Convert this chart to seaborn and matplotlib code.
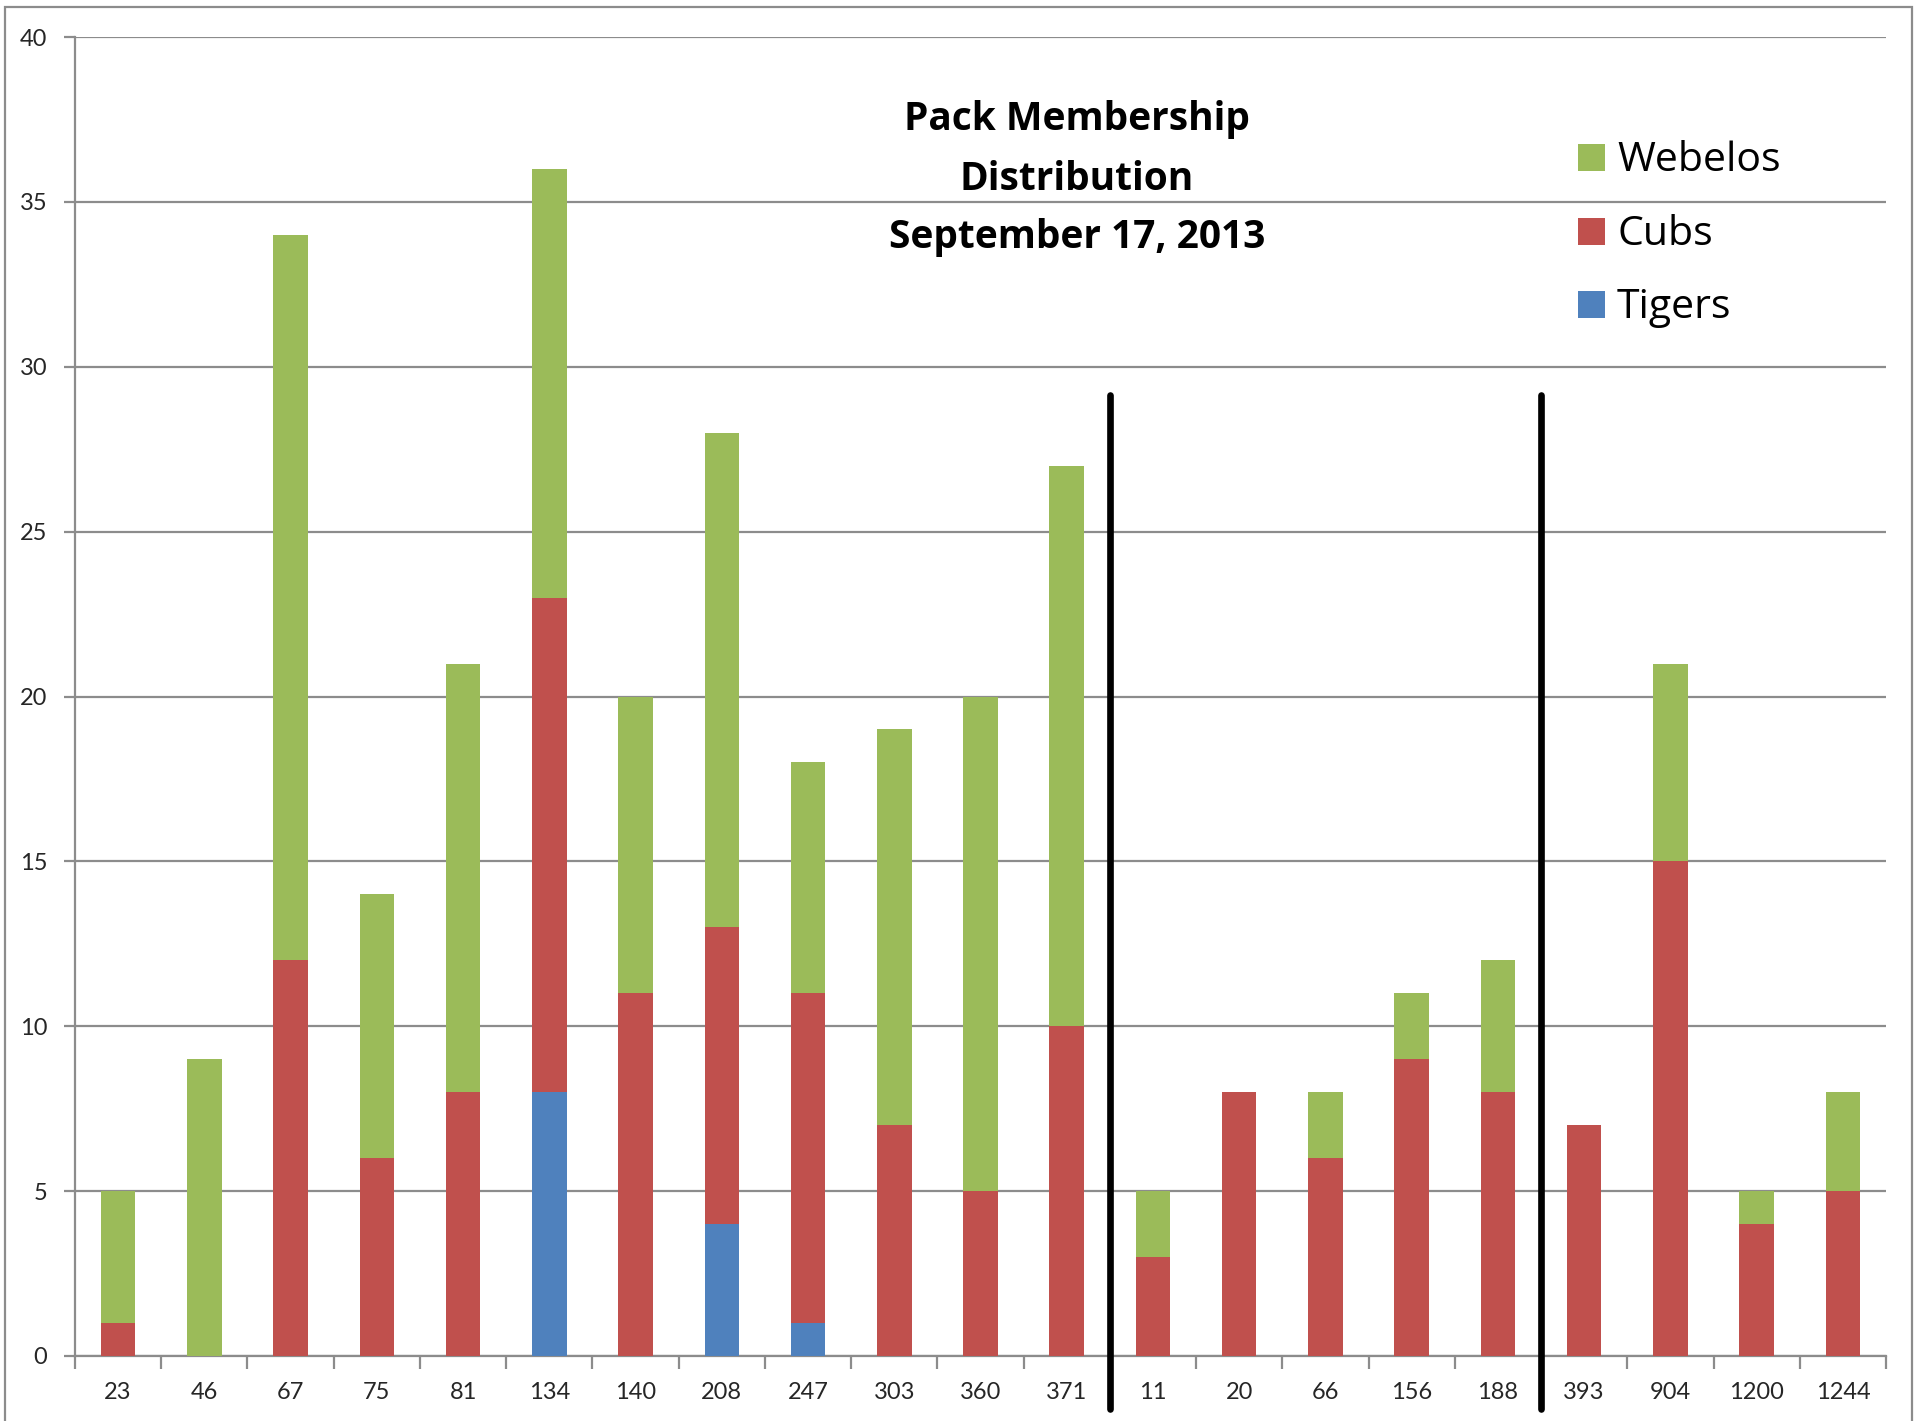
import matplotlib
matplotlib.use("Agg")
import matplotlib.pyplot as plt
import seaborn as sns
import pandas as pd
import numpy as np
from matplotlib.patches import Rectangle
from matplotlib.lines import Line2D

packs = ["23", "46", "67", "75", "81", "134", "140", "208", "247", "303", "360", "371",
         "11", "20", "66", "156", "188", "393", "904", "1200", "1244"]
tigers = [0, 0, 0, 0, 0, 8, 0, 4, 1, 0, 0, 0, 0, 0, 0, 0, 0, 0, 0, 0, 0]
cubs = [1, 0, 12, 6, 8, 15, 11, 9, 10, 7, 5, 10, 3, 8, 6, 9, 8, 7, 15, 4, 5]
webelos = [4, 9, 22, 8, 13, 13, 9, 15, 7, 12, 15, 17, 2, 0, 2, 2, 4, 0, 6, 1, 3]
group_breaks = [11.5, 16.5]
title_lines = ["Pack Membership", "Distribution", "September 17, 2013"]
series_names = ["Webelos", "Cubs", "Tigers"]

sns.set_theme(style="white")
plt.rcParams["font.family"] = ["Lato", "DejaVu Sans"]

c_web = "#9BBB59"
c_cub = "#C0504D"
c_tig = "#4F81BD"
gray = "#8C8C8C"
W, H = 1923, 1421

df = pd.DataFrame({"pack": packs, "tigers": tigers, "cubs": cubs, "webelos": webelos})
df["lvl_cub"] = df["tigers"] + df["cubs"]
df["lvl_web"] = df["lvl_cub"] + df["webelos"]

fig = plt.figure(figsize=(W / 100, H / 100), dpi=100)
ax = fig.add_axes([75 / W, 1 - 1356 / H, (1886 - 75) / W, (1356 - 37) / H])

for col, c in [("lvl_web", c_web), ("lvl_cub", c_cub), ("tigers", c_tig)]:
    sns.barplot(data=df, x="pack", y=col, order=packs, color=c, width=0.4,
                saturation=1, linewidth=0, ax=ax, zorder=3)

ax.set_xlim(-0.5, len(packs) - 0.5)
ax.set_ylim(0, 40)
ax.set_yticks(np.arange(0, 41, 5))
ax.yaxis.grid(True, color=gray, linewidth=1.6, zorder=0)
ax.set_axisbelow(True)
ax.set_xlabel("")
ax.set_ylabel("")

for s in ["top", "right"]:
    ax.spines[s].set_visible(False)
for s in ["left", "bottom"]:
    ax.spines[s].set_color(gray)
    ax.spines[s].set_linewidth(1.6)

ax.tick_params(axis="y", which="major", length=8, width=1.6, color=gray,
               labelsize=17, pad=12, left=True)
ax.set_xticks(np.arange(len(packs)))
ax.set_xticklabels(packs)
ax.set_xticks(np.arange(-0.5, len(packs), 1.0), minor=True)
ax.tick_params(axis="x", which="major", length=0, labelsize=17, pad=19)
ax.tick_params(axis="x", which="minor", length=9, width=1.6, color=gray, bottom=True)

# group separator lines
for xb in group_breaks:
    ax.add_line(Line2D([xb, xb], [-1.6, 29.15], color="black", linewidth=4.8,
                       clip_on=False, zorder=5))

# title (three centred bold lines)
for line, base in zip(title_lines, [130, 190, 248]):
    fig.text(1077 / W, 1 - base / H, line, ha="center", va="baseline",
             fontsize=28, fontweight="bold", color="black",
             family=["Open Sans", "DejaVu Sans"])

# legend
for name, c, base in zip(series_names, [c_web, c_cub, c_tig], [171, 245, 318]):
    fig.add_artist(Rectangle((1578 / W, 1 - base / H), 27 / W, 27 / H,
                             transform=fig.transFigure, facecolor=c, edgecolor="none"))
    fig.text(1617 / W, 1 - base / H, name, ha="left", va="baseline", fontsize=29.5,
             color="black", family=["Open Sans", "DejaVu Sans"])

# outer chart border
fig.add_artist(Rectangle((5 / W, -0.01), (1912 - 5) / W, 1.01 - 7 / H,
                         transform=fig.transFigure, fill=False, edgecolor=gray,
                         linewidth=1.6))

fig.savefig("out.png", dpi=100)
